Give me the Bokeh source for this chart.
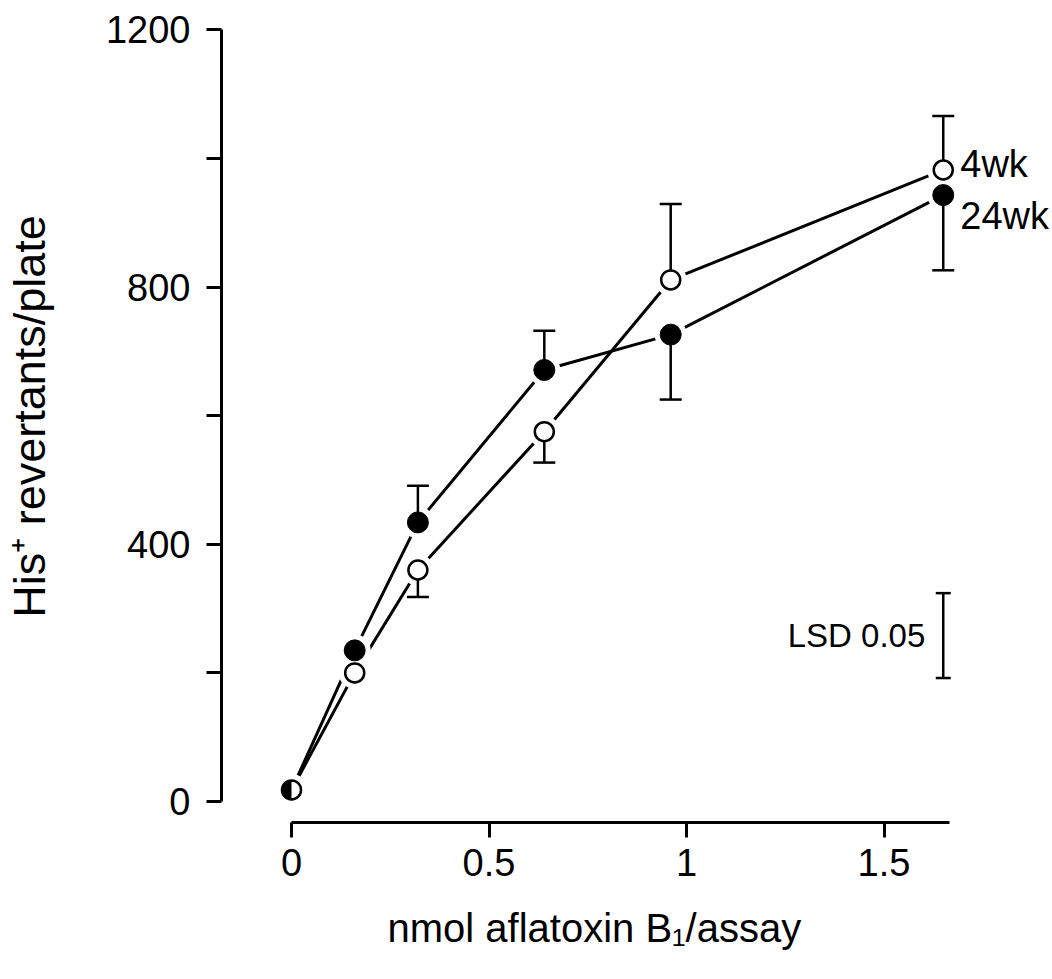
import math
from bokeh.plotting import figure
from bokeh.models import FixedTicker, Range1d, Title
from bokeh.core.properties import value
from bokeh.embed import file_html
from bokeh.resources import INLINE

# ---- data ----
dose = [0, 0.16, 0.32, 0.64, 0.96, 1.65]          # nmol aflatoxin B1 / assay
wk4 = [18, 200, 360, 575, 811, 982]                # 4 wk, open circles
wk24 = [18, 235, 434, 671, 726, 943]               # 24 wk, filled circles
wk4_err = [0, 0, 42, 48, 118, 84]
wk4_dir = [0, 0, -1, -1, 1, 1]
wk24_err = [0, 0, 57, 61, 101, 117]
wk24_dir = [0, 0, 1, 1, -1, -1]
lsd_low = [192]
lsd_high = [324]
lsd_x = [1.65]
series_labels = ["4wk", "24wk"]
lsd_label = ["LSD 0.05"]
x_ticks = [0, 0.5, 1, 1.5]
x_tick_labels = ["0", "0.5", "1", "1.5"]
y_ticks = [0, 400, 800, 1200]
y_minor = [200, 600, 1000]
x_title = "nmol aflatoxin B\u2081/assay"
y_title = "His\u207a revertants/plate"

# ---- layout constants (pixels) ----
W, H = 1050, 979
LEFT, RIGHT, TOP, BOTTOM = 221, 1050, 10, 822   # frame edges in page px
X0_PX, XS = 291.0, 395.0                 # x=0 position and px per unit
Y0_PX, YS = 801.0, 0.6431                # y=0 position and px per unit

x_start = (LEFT - X0_PX) / XS
x_end = (RIGHT - X0_PX) / XS
y_start = -(BOTTOM - Y0_PX) / YS
y_end = (Y0_PX - TOP) / YS

TEXT_FONT = "Liberation Sans"

p = figure(width=W, height=H, output_backend="svg", toolbar_location=None,
           x_range=Range1d(x_start, x_end), y_range=Range1d(y_start, y_end),
           min_border_left=LEFT, min_border_right=W - RIGHT, min_border_top=TOP,
           min_border_bottom=H - BOTTOM)
p.outline_line_color = None
p.xgrid.visible = False
p.ygrid.visible = False
p.background_fill_color = "white"
p.border_fill_color = "white"

# lines
p.line(dose, wk4, line_width=3, color="black")
p.line(dose, wk24, line_width=3, color="black")
# white halos (gaps around markers)
p.scatter(dose + dose, wk4 + wk24, size=32, fill_color="white", line_color=None)

# one-sided error bars
for ys, errs, dirs in [(wk4, wk4_err, wk4_dir), (wk24, wk24_err, wk24_dir)]:
    xs = [d for d, e in zip(dose, errs) if e]
    y0 = [y for y, e in zip(ys, errs) if e]
    y1 = [y + s * e for y, e, s in zip(ys, errs, dirs) if e]
    p.segment(xs, y0, xs, y1, line_width=2.5, color="black")
    p.scatter(xs, y1, marker="dash", size=22, line_width=2.5, color="black")

# markers
p.scatter(dose, wk4, size=19, fill_color="white", line_color="black", line_width=2.5)
p.scatter(dose[1:], wk24[1:], size=21, fill_color="black", line_color="black")
p.wedge(x=dose[:1], y=wk24[:1], radius=10, radius_units="screen",
        start_angle=math.pi / 2, end_angle=3 * math.pi / 2,
        fill_color="black", line_color=None)

# series labels
p.text(x=dose[-1:], y=wk4[-1:], text=series_labels[:1], x_offset=17, y_offset=-6,
       text_baseline="middle", text_font=value(TEXT_FONT), text_font_size="38px",
       text_color="black")
p.text(x=dose[-1:], y=wk24[-1:], text=series_labels[1:], x_offset=17, y_offset=21,
       text_baseline="middle", text_font=value(TEXT_FONT), text_font_size="38px",
       text_color="black")

# LSD bar
p.segment(lsd_x, lsd_low, lsd_x, lsd_high, line_width=2.5, color="black")
p.scatter(lsd_x + lsd_x, lsd_low + lsd_high, marker="dash", size=15, line_width=2.5, color="black")
p.text(x=lsd_x, y=[(lsd_low[0] + lsd_high[0]) / 2], text=lsd_label, x_offset=-18,
       text_align="right", text_baseline="middle", text_font=value(TEXT_FONT),
       text_font_size="33px", text_color="black")

# axes
xa = p.xaxis[0]
xa.ticker = FixedTicker(ticks=x_ticks)
xa.major_label_overrides = {t: l for t, l in zip(x_ticks, x_tick_labels)}
xa.bounds = (0, 1.665)
xa.major_label_standoff = 11

# x-axis title placed below the axis (under the data, as in the reference)
p.add_layout(Title(text=x_title, align="left", offset=166, standoff=51,
                   text_font=TEXT_FONT, text_font_size="40px",
                   text_font_style="normal", text_color="black"), "below")

ya = p.yaxis[0]
ya.ticker = FixedTicker(ticks=y_ticks, minor_ticks=y_minor)
ya.bounds = (0, 1200)
ya.axis_label = y_title
ya.axis_label_standoff = 48
ya.major_label_standoff = 16
ya.axis_label_text_font = TEXT_FONT
ya.axis_label_text_font_size = "45px"
ya.axis_label_text_font_style = "normal"
ya.axis_label_text_color = "black"

for ax in (xa, ya):
    ax.axis_line_width = 3
    ax.axis_line_color = "black"
    ax.major_tick_line_width = 3
    ax.major_tick_line_color = "black"
    ax.major_tick_out = 15
    ax.major_tick_in = 0
    ax.minor_tick_line_width = 3
    ax.minor_tick_line_color = "black"
    ax.minor_tick_out = 15
    ax.minor_tick_in = 0
    ax.major_label_text_font = TEXT_FONT
    ax.major_label_text_font_size = "38px"
    ax.major_label_text_color = "black"
xa.minor_tick_line_color = None

open("out.html", "w").write(file_html(p, INLINE))
